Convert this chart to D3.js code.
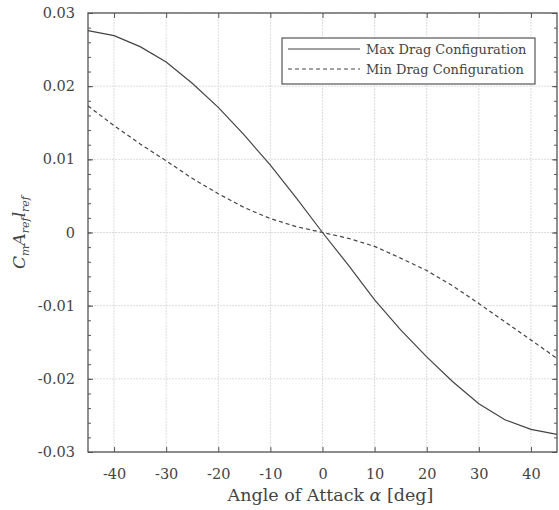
<!DOCTYPE html>
<html lang="en">
<head>
<meta charset="UTF-8">
<script src="https://d3js.org/d3.v7.min.js"></script>
<style>
  html, body { margin: 0; padding: 0; background: #fff; }
  svg text { font-family: 'DejaVu Serif', 'Liberation Serif', serif; fill: #444; }
</style>
</head>
<body>
<div id="chart"></div>
<script>
// angle of attack [deg]
var alpha = [-45, -40, -35, -30, -25, -20, -15, -10, -5, 0, 5, 10, 15, 20, 25, 30, 35, 40, 45];
var maxDrag = [0.0276, 0.0269, 0.0254, 0.0233, 0.0204, 0.0171, 0.0133, 0.0092, 0.0047, 0,
               -0.0045, -0.0092, -0.0133, -0.0170, -0.0204, -0.0234, -0.0256, -0.0269, -0.0276];
var minDrag = [0.0173, 0.0146, 0.0121, 0.0098, 0.0074, 0.0053, 0.0034, 0.0019, 0.0008, 0,
               -0.0008, -0.0019, -0.0035, -0.0052, -0.0073, -0.0097, -0.0122, -0.0147, -0.0172];
var xTicks = [-40, -30, -20, -10, 0, 10, 20, 30, 40];
var xLabels = ['-40', '-30', '-20', '-10', '0', '10', '20', '30', '40'];
var yTicks = [-0.03, -0.02, -0.01, 0, 0.01, 0.02, 0.03];
var yLabels = ['-0.03', '-0.02', '-0.01', '0', '0.01', '0.02', '0.03'];
var seriesNames = ['Max Drag Configuration', 'Min Drag Configuration'];

var W = 559, H = 510;
var margin = {top: 13, right: 2, bottom: 58, left: 88};
var width = W - margin.left - margin.right,
    height = H - margin.top - margin.bottom;
var FONT = "'DejaVu Serif', 'Liberation Serif', serif";

var svg = d3.select('#chart').append('svg')
    .attr('width', W)
    .attr('height', H)
    .attr('font-family', FONT);

var g = svg.append('g')
    .attr('transform', 'translate(' + margin.left + ',' + margin.top + ')');

var x = d3.scaleLinear().domain([-45, 45]).range([0, width]);
var y = d3.scaleLinear().domain([-0.03, 0.03]).range([height, 0]);

// grid
g.selectAll('.gx').data(xTicks).enter().append('line')
    .attr('x1', function(d) { return x(d); }).attr('x2', function(d) { return x(d); })
    .attr('y1', 0).attr('y2', height)
    .attr('stroke', '#dcdcdc').attr('stroke-width', 1).attr('stroke-dasharray', '2,1');
g.selectAll('.gy').data(yTicks).enter().append('line')
    .attr('y1', function(d) { return y(d); }).attr('y2', function(d) { return y(d); })
    .attr('x1', 0).attr('x2', width)
    .attr('stroke', '#dcdcdc').attr('stroke-width', 1).attr('stroke-dasharray', '2,1');

// minor y ticks
var yMinor = d3.range(-0.03, 0.0301, 0.002);

// axes (ticks pointing inward)
var axisColor = '#555';
function styleAxis(sel) {
    sel.attr('font-family', FONT);
    sel.select('.domain').remove();
    sel.selectAll('line').attr('stroke', axisColor);
    sel.selectAll('text').style('font-size', '14.5px').style('font-family', FONT).attr('fill', '#444');
}

g.append('g').attr('transform', 'translate(0,' + height + ')')
    .call(d3.axisBottom(x).tickValues(xTicks).tickSize(-5).tickPadding(17)
        .tickFormat(function(d, i) { return xLabels[i]; }))
    .call(styleAxis);
g.append('g')
    .call(d3.axisTop(x).tickValues(xTicks).tickSize(-5).tickFormat(''))
    .call(styleAxis);
g.append('g')
    .call(d3.axisLeft(y).tickValues(yTicks).tickSize(-5).tickPadding(13)
        .tickFormat(function(d, i) { return yLabels[i]; }))
    .call(styleAxis);
g.append('g').attr('transform', 'translate(' + width + ',0)')
    .call(d3.axisRight(y).tickValues(yTicks).tickSize(-5).tickFormat(''))
    .call(styleAxis);
g.append('g')
    .call(d3.axisLeft(y).tickValues(yMinor).tickSize(-3).tickFormat(''))
    .call(styleAxis);
g.append('g').attr('transform', 'translate(' + width + ',0)')
    .call(d3.axisRight(y).tickValues(yMinor).tickSize(-3).tickFormat(''))
    .call(styleAxis);

// frame
g.append('rect').attr('width', width).attr('height', height)
    .attr('fill', 'none').attr('stroke', axisColor).attr('stroke-width', 1.3);

// lines
var line = d3.line()
    .x(function(d) { return x(d[0]); })
    .y(function(d) { return y(d[1]); });

g.append('path')
    .datum(alpha.map(function(a, i) { return [a, maxDrag[i]]; }))
    .attr('d', line).attr('fill', 'none')
    .attr('stroke', '#444').attr('stroke-width', 1.2);
g.append('path')
    .datum(alpha.map(function(a, i) { return [a, minDrag[i]]; }))
    .attr('d', line).attr('fill', 'none')
    .attr('stroke', '#444').attr('stroke-width', 1.2).attr('stroke-dasharray', '4,3');

// legend
var lg = svg.append('g').attr('transform', 'translate(282,38)');
lg.append('rect').attr('width', 253).attr('height', 46)
    .attr('fill', '#fff').attr('stroke', '#555').attr('stroke-width', 1.2);
seriesNames.forEach(function(name, i) {
    var yy = 11 + i * 20;
    lg.append('line').attr('x1', 6).attr('x2', 78).attr('y1', yy).attr('y2', yy)
        .attr('stroke', '#444').attr('stroke-width', 1.2)
        .attr('stroke-dasharray', i === 1 ? '4,3' : null);
    lg.append('text').attr('x', 84).attr('y', yy + 5)
        .style('font-size', '13px').text(name);
});

// axis labels
var xl = svg.append('text')
    .attr('x', margin.left + width / 2 + 8).attr('y', 501)
    .attr('text-anchor', 'middle').style('font-size', '17.5px');
xl.append('tspan').text('Angle of Attack ');
xl.append('tspan').style('font-style', 'italic').text('α');
xl.append('tspan').text(' [deg]');

var yl = svg.append('text')
    .attr('transform', 'translate(25,' + (margin.top + height / 2) + ') rotate(-90)')
    .attr('text-anchor', 'middle').style('font-size', '17px').style('font-style', 'italic');
yl.append('tspan').text('C');
yl.append('tspan').attr('dy', 4).style('font-size', '11px').text('m');
yl.append('tspan').attr('dy', -4).text('A');
yl.append('tspan').attr('dy', 4).style('font-size', '11px').text('ref');
yl.append('tspan').attr('dy', -4).text('l');
yl.append('tspan').attr('dy', 4).style('font-size', '11px').text('ref');
</script>
</body>
</html>
